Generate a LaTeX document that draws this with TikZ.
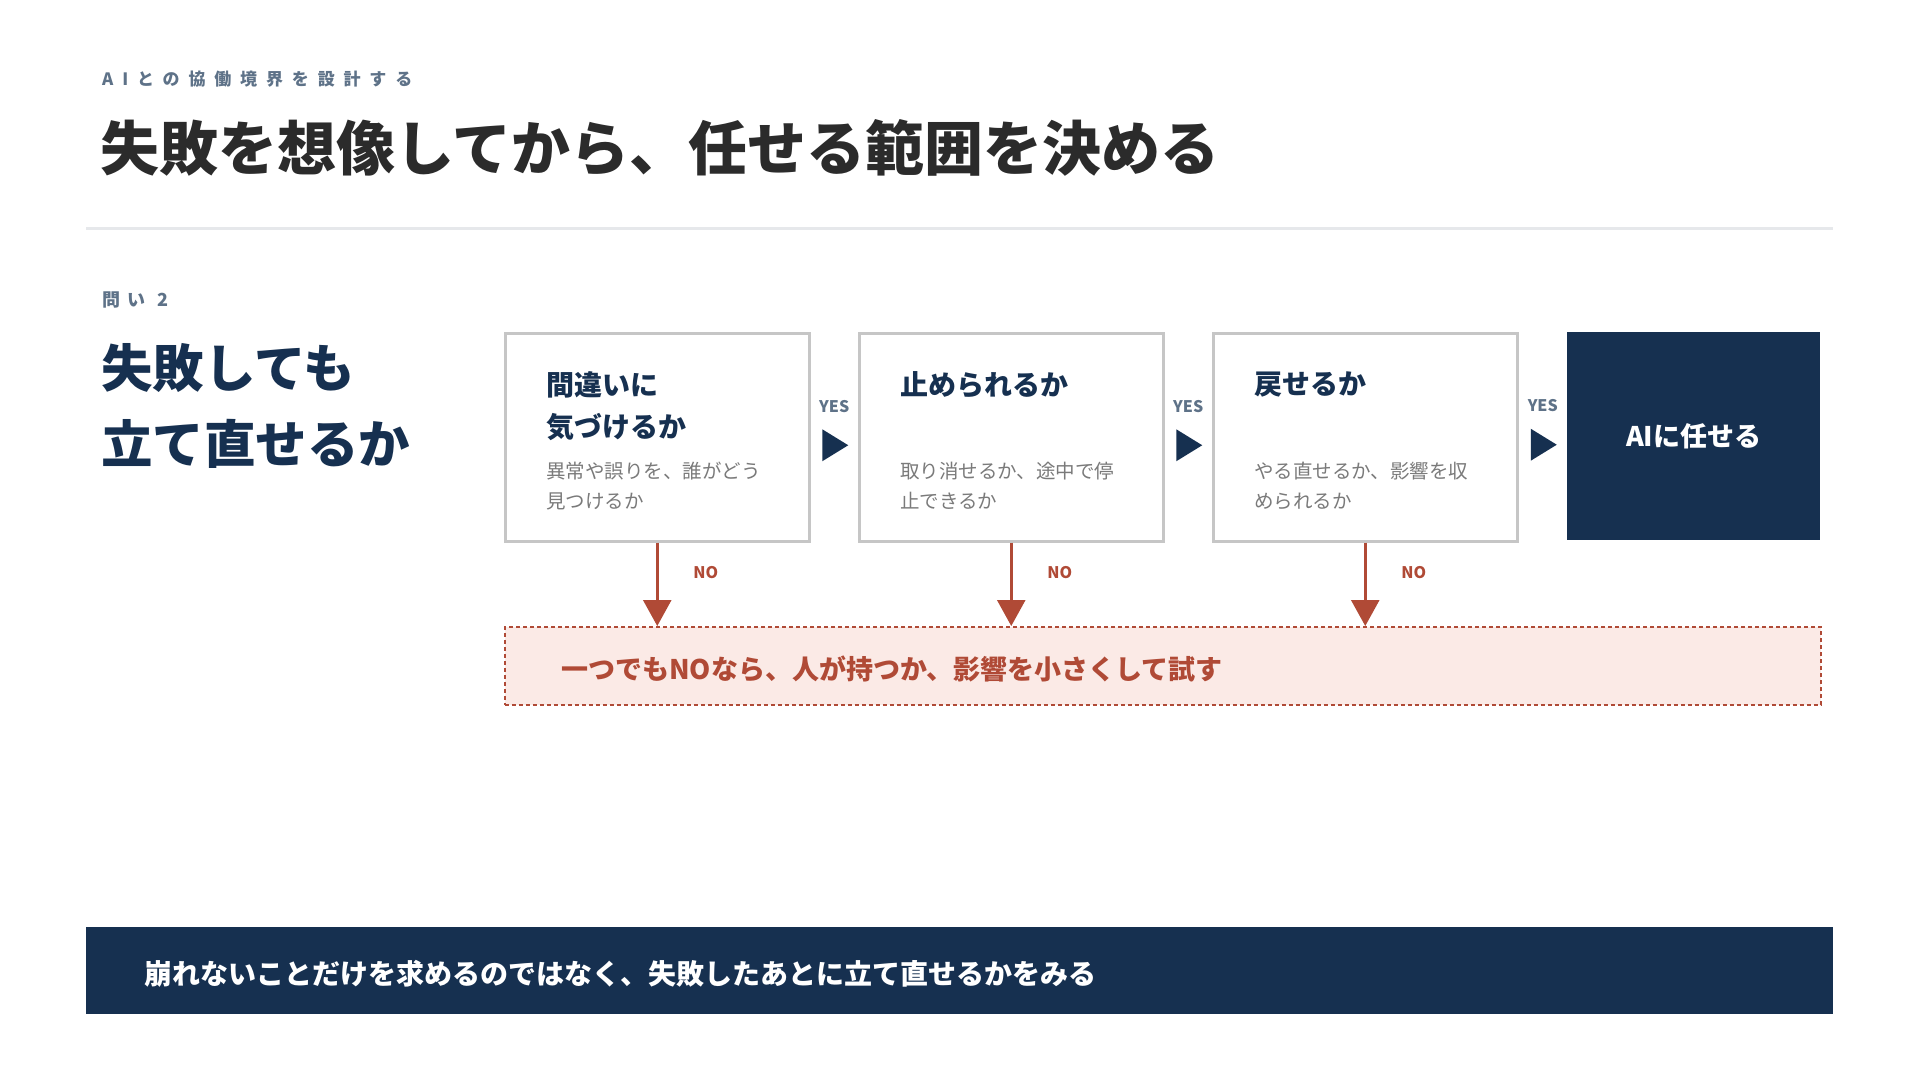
\documentclass[tikz,border=0pt]{standalone}
\usepackage{fontspec}
\setmainfont{Noto Sans CJK JP}
\usetikzlibrary{positioning,calc,arrows.meta}

\definecolor{navy}{HTML}{163050}
\definecolor{ink}{HTML}{2B2B2B}
\definecolor{slate}{HTML}{5E7288}
\definecolor{rust}{HTML}{B04A36}
\definecolor{blush}{HTML}{FBEAE6}
\definecolor{boxline}{HTML}{C6C6C6}
\definecolor{bodygray}{HTML}{7A7A7A}
\definecolor{rulegray}{HTML}{E6E8EB}

\tikzset{
  stepcard/.style={draw=boxline, line width=2.5pt, fill=white, anchor=north west,
    minimum width=304pt, minimum height=208pt, inner sep=0pt},
  cardhead/.style={anchor=north west, align=left, inner sep=0pt, text=navy,
    font=\fontsize{28}{42}\selectfont\bfseries},
  cardbody/.style={anchor=north west, align=left, inner sep=0pt, text=bodygray,
    font=\fontsize{19.5}{30}\selectfont},
  yeslabel/.style={text=slate, font=\fontsize{16}{16}\selectfont\bfseries, inner sep=0pt},
  nolabel/.style={text=rust, font=\fontsize{16}{16}\selectfont\bfseries, inner sep=0pt, anchor=base west},
  noarrow/.style={draw=rust, line width=2.5pt, -{Triangle[width=28pt,length=26pt]}},
}

\newcommand{\yestip}[1]{%
  \fill[navy] ($(#1)+(-12,-16)$) -- ($(#1)+(14,0)$) -- ($(#1)+(-12,16)$) -- cycle;}

\begin{document}
\begin{tikzpicture}[x=1pt, y=-1pt]
  \useasboundingbox[fill=white] (0,0) rectangle (1920,1080);

  % header
  \node[anchor=base west, inner sep=0pt, text=slate,
    font=\fontsize{17}{17}\selectfont\bfseries\addfontfeature{LetterSpace=52}] (kicker) at (102,85) {AIとの協働境界を設計する};
  \node[anchor=base west, inner sep=0pt, text=ink,
    font=\fontsize{59}{59}\selectfont\bfseries] (title) at (100,170) {失敗を想像してから、任せる範囲を決める};
  \draw[rulegray, line width=3pt] (86,228) -- (1833,228);

  % question
  \node[anchor=base west, inner sep=0pt, text=slate,
    font=\fontsize{18}{18}\selectfont\bfseries\addfontfeature{LetterSpace=42}] (qno) at (102,306) {問い 2};
  \node[anchor=base west, inner sep=0pt, text=navy,
    font=\fontsize{51.5}{51.5}\selectfont\bfseries] (q1) at (101,387) {失敗しても};
  \node[anchor=base west, inner sep=0pt, text=navy,
    font=\fontsize{51.5}{51.5}\selectfont\bfseries] (q2) at (101,463) {立て直せるか};

  % step boxes
  \node[stepcard] (box1) at (504,332) {};
  \node[stepcard] (box2) at (858,332) {};
  \node[stepcard] (box3) at (1212,332) {};
  \node[fill=navy, anchor=north west, minimum width=253pt, minimum height=208pt,
    inner sep=0pt] (aibox) at (1567,332) {};
  \node[text=white, font=\fontsize{27}{27}\selectfont\bfseries] (aitext) at (aibox.center) {AIに任せる};

  \node[cardhead] (h1) at (546,371) {間違いに\\気づけるか};
  \node[cardbody] (d1) at (546,462) {異常や誤りを、誰がどう\\見つけるか};
  \node[cardhead] (h2) at (900,371) {止められるか};
  \node[cardbody] (d2) at (900,462) {取り消せるか、途中で停\\止できるか};
  \node[cardhead] (h3) at (1254,371) {戻せるか};
  \node[cardbody] (d3) at (1254,462) {やる直せるか、影響を収\\められるか};

  % YES arrows
  \coordinate (t1) at ($(box1.east)!0.5!(box2.west)+(0,8)$);
  \coordinate (t2) at ($(box2.east)!0.5!(box3.west)+(0,8)$);
  \coordinate (t3) at ($(box3.east)!0.5!(aibox.west)+(0,8)$);
  \yestip{t1} \yestip{t2} \yestip{t3}
  \node[yeslabel] (y1) at ($(t1)+(0,-39)$) {YES};
  \node[yeslabel] (y2) at ($(t2)+(0,-39)$) {YES};
  \node[yeslabel] (y3) at ($(t3)+(0,-39)$) {YES};

  % fallback box
  \node[draw=rust, fill=blush, line width=1.5pt, dash pattern=on 4pt off 3pt,
    anchor=north west, minimum width=1316pt, minimum height=78pt, inner sep=0pt] (nobox) at (504,626) {};
  \node[anchor=west, inner sep=0pt, text=rust, font=\fontsize{27}{27}\selectfont\bfseries] (notext)
    at (561,669) {一つでもNOなら、人が持つか、影響を小さくして試す};

  % NO arrows
  \draw[noarrow] (box1.south) -- (box1.south |- nobox.north);
  \draw[noarrow] (box2.south) -- (box2.south |- nobox.north);
  \draw[noarrow] (box3.south) -- (box3.south |- nobox.north);
  \node[nolabel] (n1) at ($(box1.south)+(36,36)$) {NO};
  \node[nolabel] (n2) at ($(box2.south)+(36,36)$) {NO};
  \node[nolabel] (n3) at ($(box3.south)+(36,36)$) {NO};

  % bottom bar
  \node[fill=navy, anchor=north west, minimum width=1747pt, minimum height=87pt,
    inner sep=0pt] (bar) at (86,927) {};
  \node[anchor=west, inner sep=0pt, text=white, font=\fontsize{28}{28}\selectfont\bfseries] (bartext)
    at (144,974) {崩れないことだけを求めるのではなく、失敗したあとに立て直せるかをみる};
\end{tikzpicture}
\end{document}
